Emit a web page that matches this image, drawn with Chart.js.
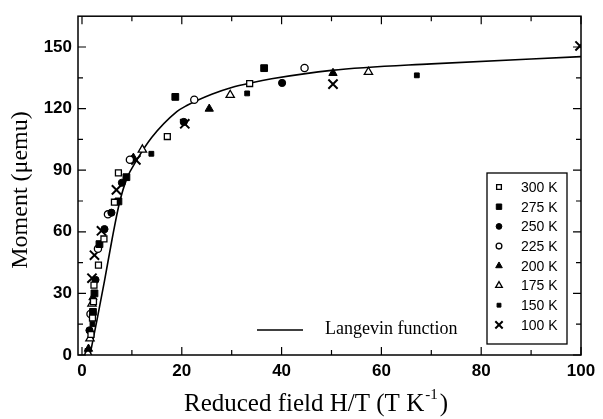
<!DOCTYPE html>
<html><head><meta charset="utf-8">
<script src="https://cdn.jsdelivr.net/npm/chart.js@4.4.1/dist/chart.umd.min.js"></script>
<style>html,body{margin:0;padding:0;background:#fff;}canvas{display:block}</style>
</head><body>
<canvas id="c" width="603" height="419"></canvas>
<script>
// ---- data ----
const xTicks = [0, 20, 40, 60, 80, 100];
const xMinorTicks = [10, 30, 50, 70, 90];
const yTicks = [0, 30, 60, 90, 120, 150];
const yMinorTicks = [15, 45, 75, 105, 135];
const seriesLabels = ['300 K', '275 K', '250 K', '225 K', '200 K', '175 K', '150 K', '100 K'];

const h300 = [1.8, 2.1, 2.3, 2.4, 3.3, 4.4, 6.5, 7.3, 17.1, 33.6];
const m300 = [10, 18, 26, 34, 43.8, 56.5, 74.4, 88.7, 106.4, 132.2];
const h275 = [2.2, 2.5, 3.5, 7.3, 8.9, 18.7, 36.5];
const m275 = [21, 30, 54, 74.8, 86.6, 125.7, 139.7];
const h250 = [1.5, 2.7, 4.5, 5.9, 8.0, 20.4, 40.1];
const m250 = [12, 36.6, 61.3, 69.3, 83.9, 113.5, 132.5];
const h225 = [1.7, 3.2, 5.2, 9.6, 22.5, 44.6];
const m225 = [20, 51.7, 68.5, 95.1, 124.3, 139.8];
const h200 = [1.3, 2.2, 10.3, 25.5, 50.3];
const m200 = [3, 28, 96, 119.9, 137.3];
const h175 = [1.2, 1.6, 2.0, 12.1, 29.7, 57.4];
const m175 = [0.8, 8, 25, 100, 126.6, 137.8];
const h150 = [1.1, 2.1, 13.9, 33.1, 67.1];
const m150 = [2, 15, 98, 127.4, 136.2];
const h100 = [2.0, 2.5, 3.9, 6.9, 10.8, 20.6, 50.3, 99.8];
const m100 = [37.4, 48.6, 60.5, 80.4, 95, 112.6, 131.9, 150.5];

const langevinH = [1.6, 3, 4.5, 6, 7.5, 9, 11, 14, 19, 21, 26, 30, 34, 38, 50, 70, 100];
const langevinM = [0, 17, 36, 56, 74, 86, 95, 106, 118.5, 121.5, 127, 130.3, 132.6, 134.5, 138.6, 141.8, 145.3];
const langevinLabel = 'Langevin function';
const xTitleMain = 'Reduced field H/T (T K';
const xTitleSup = '-1';
const xTitleEnd = ')';
const yTitle = 'Moment (\u03bcemu)';

// ---- build ----
const pts = (xs, ys) => xs.map((x, i) => ({x: x, y: ys[i]}));
const seriesH = [h300, h275, h250, h225, h200, h175, h150, h100];
const seriesM = [m300, m275, m250, m225, m200, m175, m150, m100];
const styles = [
  {pointStyle: 'rect', radius: 4.2, fill: '#fff', bw: 1.3},
  {pointStyle: 'rect', radius: 4.8, fill: '#000', bw: 1},
  {pointStyle: 'circle', radius: 3.6, fill: '#000', bw: 1},
  {pointStyle: 'circle', radius: 3.6, fill: '#fff', bw: 1.3},
  {pointStyle: 'triangle', radius: 4.8, fill: '#000', bw: 1},
  {pointStyle: 'triangle', radius: 4.8, fill: '#fff', bw: 1.3},
  {pointStyle: 'rect', radius: 3.4, fill: '#000', bw: 1},
  {pointStyle: 'crossRot', radius: 6.5, fill: '#000', bw: 2}
];
const datasets = seriesLabels.map((lab, i) => ({
  type: 'scatter', label: lab, data: pts(seriesH[i], seriesM[i]),
  pointStyle: styles[i].pointStyle, pointRadius: styles[i].radius,
  backgroundColor: styles[i].fill, borderColor: '#000', borderWidth: styles[i].bw,
  pointBorderWidth: styles[i].bw, order: 1
}));
datasets.push({
  type: 'line', label: langevinLabel, data: pts(langevinH, langevinM),
  borderColor: '#000', borderWidth: 1.6, pointRadius: 0, fill: false,
  cubicInterpolationMode: 'monotone', order: 2
});

const tickFont = {family: 'Liberation Sans', size: 17, weight: 'bold'};

const decor = {
  id: 'decor',
  afterDraw(chart) {
    const ctx = chart.ctx, a = chart.chartArea;
    const xs = chart.scales.x, ys = chart.scales.y;
    ctx.save();
    ctx.strokeStyle = '#000';
    ctx.lineWidth = 1.5;
    ctx.strokeRect(a.left, a.top, a.right - a.left, a.bottom - a.top);
    ctx.lineWidth = 1.2;
    ctx.beginPath();
    const tx = (v, len) => { const p = xs.getPixelForValue(v);
      ctx.moveTo(p, a.bottom); ctx.lineTo(p, a.bottom - len);
      ctx.moveTo(p, a.top); ctx.lineTo(p, a.top + len); };
    const ty = (v, len) => { const p = ys.getPixelForValue(v);
      ctx.moveTo(a.left, p); ctx.lineTo(a.left + len, p);
      ctx.moveTo(a.right, p); ctx.lineTo(a.right - len, p); };
    xTicks.forEach(v => tx(v, 8)); xMinorTicks.forEach(v => tx(v, 5));
    yTicks.forEach(v => ty(v, 8)); yMinorTicks.forEach(v => ty(v, 5));
    ctx.stroke();

    // axis titles
    ctx.fillStyle = '#000';
    ctx.font = '25px "Liberation Serif"';
    ctx.textBaseline = 'middle';
    const w1 = ctx.measureText(xTitleMain).width;
    ctx.font = '15px "Liberation Serif"';
    const w2 = ctx.measureText(xTitleSup).width;
    ctx.font = '25px "Liberation Serif"';
    const w3 = ctx.measureText(xTitleEnd).width;
    let sx = 316 - (w1 + w2 + 3 + w3) / 2;
    ctx.textAlign = 'left';
    ctx.fillText(xTitleMain, sx, 404);
    ctx.font = '15px "Liberation Serif"';
    ctx.fillText(xTitleSup, sx + w1 + 1, 395);
    ctx.font = '25px "Liberation Serif"';
    ctx.fillText(xTitleEnd, sx + w1 + w2 + 3, 404);

    ctx.save();
    ctx.font = '24px "Liberation Serif"';
    ctx.translate(21, 190);
    ctx.rotate(-Math.PI / 2);
    ctx.textAlign = 'center';
    ctx.fillText(yTitle, 0, 0);
    ctx.restore();

    // legend box
    ctx.lineWidth = 1.3;
    ctx.strokeStyle = '#000';
    ctx.strokeRect(487, 173, 80, 171);
    ctx.font = '14px "Liberation Sans"';
    ctx.textAlign = 'left';
    chart.data.datasets.forEach((ds, i) => {
      if (ds.type !== 'scatter') return;
      const y = 187 + i * 19.7;
      ctx.fillStyle = ds.backgroundColor;
      ctx.strokeStyle = '#000';
      ctx.lineWidth = ds.pointBorderWidth;
      Chart.helpers.drawPoint(ctx, {
        pointStyle: ds.pointStyle, radius: ds.pointRadius * 0.8,
        borderWidth: ds.pointBorderWidth, rotation: 0
      }, 499, y);
      ctx.fillStyle = '#000';
      ctx.fillText(ds.label, 521, y + 1);
    });
    // langevin legend
    ctx.strokeStyle = '#000';
    ctx.lineWidth = 1.6;
    ctx.beginPath(); ctx.moveTo(257, 330); ctx.lineTo(303, 330); ctx.stroke();
    ctx.font = '18px "Liberation Serif"';
    ctx.fillStyle = '#000';
    ctx.fillText(langevinLabel, 325, 329);
    ctx.restore();
  }
};

new Chart(document.getElementById('c'), {
  type: 'scatter',
  data: {datasets: datasets},
  options: {
    responsive: false, animation: false,
    layout: {padding: {left: 0, top: 10, right: 22, bottom: 0}},
    plugins: {legend: {display: false}, tooltip: {enabled: false}},
    scales: {
      x: {
        type: 'linear', min: -0.8, max: 100,
        afterFit: s => { s.height = 64; },
        afterBuildTicks: s => { s.ticks = xTicks.map(v => ({value: v})); },
        grid: {display: false, drawTicks: false},
        border: {display: false},
        ticks: {font: tickFont, color: '#000', padding: 6, maxRotation: 0, autoSkip: false}
      },
      y: {
        type: 'linear', min: 0, max: 165,
        afterFit: s => { s.width = 78; },
        afterBuildTicks: s => { s.ticks = yTicks.map(v => ({value: v})); },
        grid: {display: false, drawTicks: false},
        border: {display: false},
        ticks: {font: tickFont, color: '#000', padding: 6, autoSkip: false}
      }
    }
  },
  plugins: [decor]
});
</script>
</body></html>
